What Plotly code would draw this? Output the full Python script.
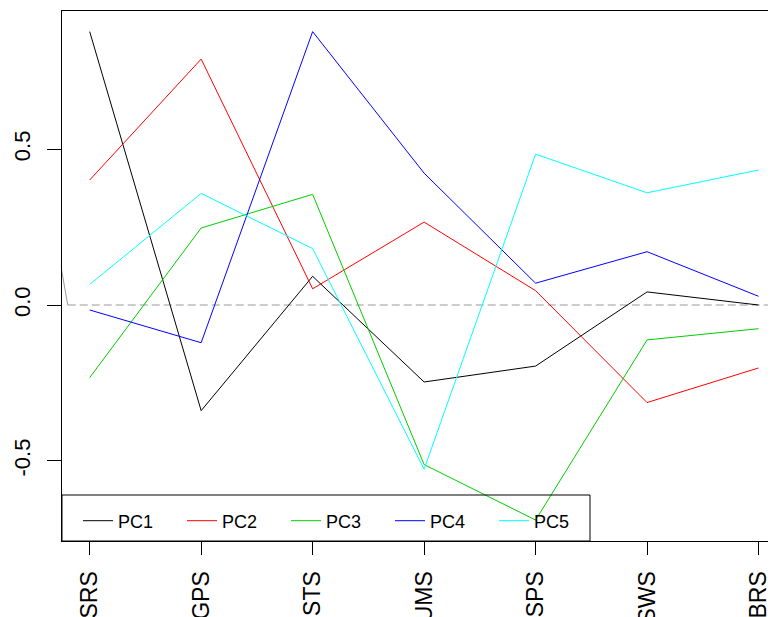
import plotly.graph_objects as go

categories = ["SRS", "GPS", "STS", "UMS", "SPS", "SWS", "BRS"]
x_pos = [1, 2, 3, 4, 5, 6, 7]

pc1 = [0.877, -0.339, 0.092, -0.247, -0.196, 0.042, 0.000]
pc2 = [0.401, 0.789, 0.052, 0.266, 0.046, -0.313, -0.202]
pc3 = [-0.233, 0.247, 0.355, -0.512, -0.690, -0.112, -0.076]
pc4 = [-0.016, -0.121, 0.877, 0.423, 0.070, 0.171, 0.028]
pc5 = [0.066, 0.358, 0.181, -0.527, 0.484, 0.360, 0.433]

series_names = ["PC1", "PC2", "PC3", "PC4", "PC5"]
series_values = [pc1, pc2, pc3, pc4, pc5]
series_colors = ["#000000", "#FF0000", "#00CD00", "#0000FF", "#00FFFF"]

y_ticks = [-0.5, 0.0, 0.5]
y_tick_labels = ["-0.5", "0.0", "0.5"]

zero_level = 0.0
guide_x = [0.70, 0.803]
guide_y = [0.21, 0.0]

FONT = "Liberation Sans, Arial, Helvetica, sans-serif"

fig = go.Figure()

# grey slanted guide segment at the left edge
fig.add_trace(go.Scatter(x=guide_x, y=guide_y, mode="lines",
                         line=dict(color="#999999", width=1),
                         showlegend=False, hoverinfo="skip"))
# dashed horizontal reference line at zero
fig.add_trace(go.Scatter(x=[guide_x[1], 7.4], y=[zero_level, zero_level], mode="lines",
                         line=dict(color="#999999", width=1, dash="8px,4px"),
                         showlegend=False, hoverinfo="skip"))

for name, vals, col in zip(series_names, series_values, series_colors):
    fig.add_trace(go.Scatter(x=x_pos, y=vals, mode="lines", name=name,
                             line=dict(color=col, width=1)))

# page has an 8px body margin: figure coords = page coords - 8
OFF = 8
W, H = 776 - OFF, 617 - OFF
L, R, T, B = 62 - OFF, 0, 11 - OFF, 617 - 541
pw = W - L - R
ph = H - T - B

fig.update_layout(
    width=W, height=H,
    margin=dict(l=L, r=R, t=T, b=B, pad=0, autoexpand=False),
    paper_bgcolor="white", plot_bgcolor="white",
    font=dict(family=FONT, color="black"),
    showlegend=True,
    legend=dict(orientation="h", x=16 / pw, xanchor="left",
                y=(541 - 521) / ph, yanchor="middle",
                bgcolor="rgba(0,0,0,0)", borderwidth=0,
                font=dict(size=18, family=FONT, color="black"),
                entrywidth=59, entrywidthmode="pixels",
                itemclick=False, itemdoubleclick=False),
    shapes=[dict(type="rect", xref="paper", yref="paper",
                 x0=0, x1=(590 - 62) / pw, y0=0, y1=(541 - 495) / ph,
                 line=dict(color="black", width=1), fillcolor="rgba(0,0,0,0)",
                 layer="above")],
)

fig.update_xaxes(range=[0.7515, 0.7515 + pw / 111.47],
                 tickmode="array", tickvals=x_pos, ticktext=categories,
                 tickangle=-90, ticks="outside", ticklen=13, tickcolor="black",
                 tickwidth=1, tickfont=dict(size=23, family=FONT, color="black"),
                 ticklabelstandoff=7,
                 showline=True, linecolor="black", linewidth=1, mirror=True,
                 showgrid=False, zeroline=False)

fig.update_yaxes(range=[-(541 - 305) / 311.7, (305 - 11) / 311.7],
                 tickmode="array", tickvals=y_ticks, ticktext=y_tick_labels,
                 tickangle=-90, ticks="outside", ticklen=14, tickcolor="black",
                 tickwidth=1, tickfont=dict(size=22, family=FONT, color="black"),
                 ticklabelstandoff=8,
                 showline=True, linecolor="black", linewidth=1, mirror=False,
                 showgrid=False, zeroline=False)

fig.write_html("out.html")
